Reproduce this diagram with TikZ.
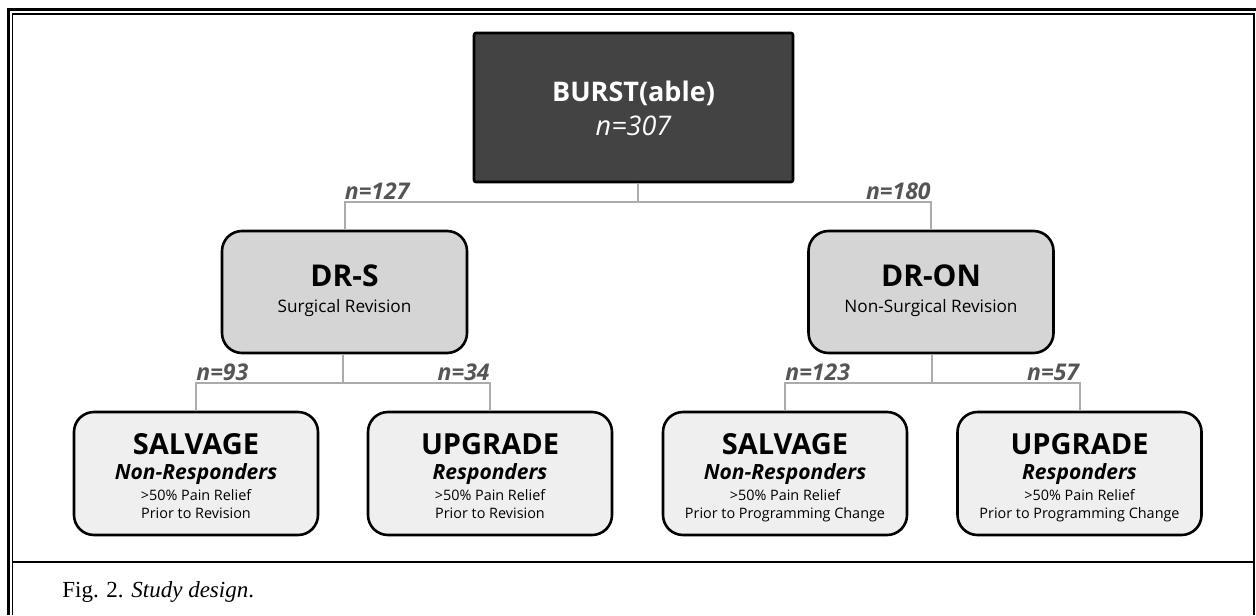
\documentclass[tikz,border=0pt]{standalone}
\usepackage{fontspec}
\setmainfont{Open Sans}
\newfontfamily\capfont{Liberation Serif}
\usepackage{xcolor}
\usepackage{tikz}
\usetikzlibrary{positioning,calc}

\definecolor{burstgray}{HTML}{434343}
\definecolor{midgray}{HTML}{D5D5D5}
\definecolor{leafgray}{HTML}{EFEFEF}
\definecolor{linkgray}{HTML}{ABABAB}
\definecolor{labelgray}{HTML}{555555}

\tikzset{
  topbox/.style={draw=black, line width=1.3pt, fill=burstgray, rounded corners=1pt,
    minimum width=159.5pt, minimum height=74.5pt, inner sep=0pt},
  midbox/.style={draw=black, line width=1.3pt, fill=midgray, rounded corners=10pt,
    minimum width=122.5pt, minimum height=61pt, inner sep=0pt},
  leafbox/.style={draw=black, line width=1.3pt, fill=leafgray, rounded corners=10pt,
    minimum width=122pt, minimum height=61.5pt, inner sep=0pt},
  link/.style={draw=linkgray, line width=1pt},
  txt/.style={inner sep=0pt, anchor=base},
  nlabel/.style={inner sep=0pt, text=labelgray, font=\fontsize{11.5pt}{13pt}\selectfont\bfseries\itshape},
  bigtitle/.style={txt, font=\fontsize{14.5pt}{16pt}\selectfont\bfseries},
  subtitle/.style={txt, font=\fontsize{10.5pt}{12pt}\selectfont\bfseries\itshape},
  small/.style={txt, font=\fontsize{7.2pt}{8pt}\selectfont},
}

\begin{document}
\begin{tikzpicture}[x=0.5pt, y=-0.5pt]
\useasboundingbox (0,0) rectangle (1256,615);
\fill[white] (0,0) rectangle (1256,615);
% frame
\draw[line width=1.5pt] (8.5,615) -- (8.5,10) -- (1256,10);
\draw[line width=0.6pt] (12.5,615) -- (12.5,14) -- (1254,14) -- (1254,615);
\draw[line width=0.6pt] (12.5,562) -- (1254,562);
% boxes
\node[topbox]  (burst)  at (633.5,107.5) {};
\node[midbox]  (drs)    at (344.5,292) {};
\node[midbox]  (dron)   at (931,292) {};
\node[leafbox] (salvS)  at (196,473.5) {};
\node[leafbox] (upgS)   at (490,473.5) {};
\node[leafbox] (salvON) at (785,473.5) {};
\node[leafbox] (upgON)  at (1079.5,473.5) {};
% box texts
\node[txt, text=white, font=\fontsize{13.5pt}{16pt}\selectfont\bfseries] (burstT) at (633.5,102) {BURST(able)};
\node[txt, text=white, font=\fontsize{13.5pt}{16pt}\selectfont\itshape] (burstN) at (633.5,135) {n=307};
\node[txt, font=\fontsize{15pt}{17pt}\selectfont\bfseries] (drsT) at (344.5,286) {DR-S};
\node[txt, font=\fontsize{8.6pt}{10pt}\selectfont] (drsS) at (344.5,312) {Surgical Revision};
\node[txt, font=\fontsize{15pt}{17pt}\selectfont\bfseries] (dronT) at (931,286) {DR-ON};
\node[txt, font=\fontsize{8.6pt}{10pt}\selectfont] (dronS) at (931,312) {Non-Surgical Revision};
\node[bigtitle] (salvST) at (196,454) {SALVAGE};
\node[subtitle] (salvSS) at (196,479) {Non-Responders};
\node[small] (salvSa) at (196,500) {>50\% Pain Relief};
\node[small] (salvSb) at (196,518) {Prior to Revision};
\node[bigtitle] (upgST) at (490,454) {UPGRADE};
\node[subtitle] (upgSS) at (490,479) {Responders};
\node[small] (upgSa) at (490,500) {>50\% Pain Relief};
\node[small] (upgSb) at (490,518) {Prior to Revision};
\node[bigtitle] (salvONT) at (785,454) {SALVAGE};
\node[subtitle] (salvONS) at (785,479) {Non-Responders};
\node[small] (salvONa) at (785,500) {>50\% Pain Relief};
\node[small] (salvONb) at (785,518) {Prior to Programming Change};
\node[bigtitle] (upgONT) at (1079.5,454) {UPGRADE};
\node[subtitle] (upgONS) at (1079.5,479) {Responders};
\node[small] (upgONa) at (1079.5,500) {>50\% Pain Relief};
\node[small] (upgONb) at (1079.5,518) {Prior to Programming Change};
% connectors
\coordinate (splitTop) at (638,202);
\coordinate (splitS) at (343,383);
\coordinate (splitON) at (932,383);
\draw[link] (burst.south -| splitTop) -- (splitTop);
\draw[link] (drs.north) |- (splitTop) -| (dron.north);
\draw[link] (drs.south -| splitS) -- (splitS);
\draw[link] (salvS.north) |- (splitS) -| (upgS.north);
\draw[link] (dron.south -| splitON) -- (splitON);
\draw[link] (salvON.north) |- (splitON) -| (upgON.north);
% counts
\node[nlabel, anchor=base west] (n127) at ($(drs.north |- splitTop)+(0,-3)$) {n=127};
\node[nlabel, anchor=base east] (n180) at ($(dron.north |- splitTop)+(0,-3)$) {n=180};
\node[nlabel, anchor=base west] (n93) at ($(salvS.north |- splitS)+(0,-3)$) {n=93};
\node[nlabel, anchor=base east] (n34) at ($(upgS.north |- splitS)+(0,-3)$) {n=34};
\node[nlabel, anchor=base west] (n123) at ($(salvON.north |- splitON)+(0,-3)$) {n=123};
\node[nlabel, anchor=base east] (n57) at ($(upgON.north |- splitON)+(0,-3)$) {n=57};
% caption
\node[inner sep=0pt, anchor=base west, font=\capfont\fontsize{11.5pt}{13pt}\selectfont] (caption) at (62,597) {Fig. 2. \textit{Study design}.};
\end{tikzpicture}
\end{document}
